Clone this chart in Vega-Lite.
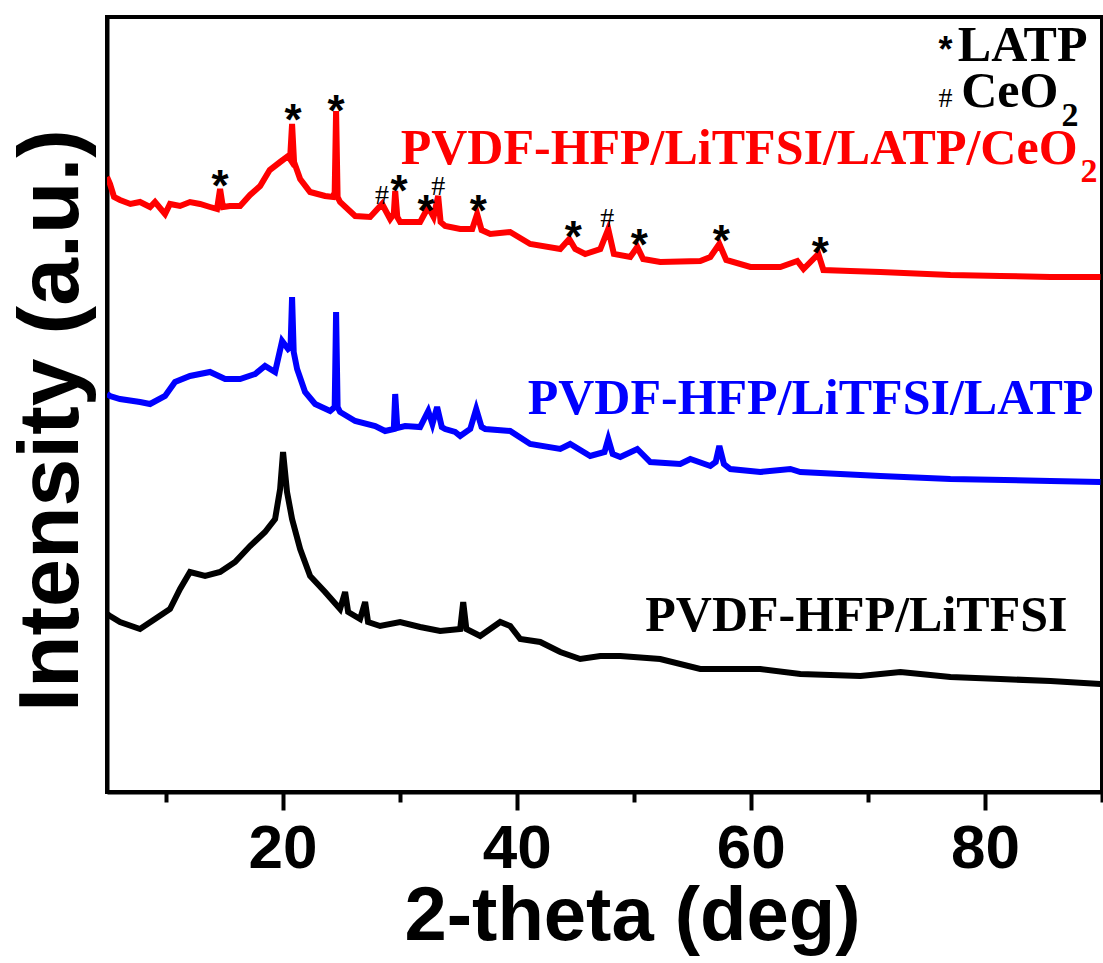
{
"$schema": "https://vega.github.io/schema/vega-lite/v6.json",
"width": 995, "height": 775,
"autosize": {"type": "none"},
"padding": {"left": 107, "top": 17, "right": 1, "bottom": 171},
"background": "white",
"config": {"view": {"stroke": "black", "strokeWidth": 4}},
"datasets": {
"xrd": [
{"s":"CeO2","x":5.0,"y":615},{"s":"CeO2","x":5.26,"y":608},{"s":"CeO2","x":5.6,"y":595},{"s":"CeO2","x":6.11,"y":592},{"s":"CeO2","x":7.0,"y":588},{"s":"CeO2","x":7.82,"y":590},{"s":"CeO2","x":8.68,"y":585},{"s":"CeO2","x":9.1,"y":590},{"s":"CeO2","x":9.96,"y":578},{"s":"CeO2","x":10.38,"y":588},{"s":"CeO2","x":11.24,"y":586},{"s":"CeO2","x":12.09,"y":590},{"s":"CeO2","x":12.95,"y":588},{"s":"CeO2","x":13.8,"y":585},{"s":"CeO2","x":14.4,"y":583},{"s":"CeO2","x":14.66,"y":603},{"s":"CeO2","x":14.9,"y":585},{"s":"CeO2","x":15.5,"y":586},{"s":"CeO2","x":16.37,"y":586},{"s":"CeO2","x":17.22,"y":597},{"s":"CeO2","x":18.08,"y":606},{"s":"CeO2","x":18.9,"y":622},{"s":"CeO2","x":19.79,"y":630},{"s":"CeO2","x":20.47,"y":636},{"s":"CeO2","x":20.64,"y":633},{"s":"CeO2","x":20.81,"y":668},{"s":"CeO2","x":20.98,"y":630},{"s":"CeO2","x":21.5,"y":613},{"s":"CeO2","x":22.35,"y":600},{"s":"CeO2","x":23.63,"y":596},{"s":"CeO2","x":24.32,"y":595},{"s":"CeO2","x":24.45,"y":600},{"s":"CeO2","x":24.57,"y":681},{"s":"CeO2","x":24.7,"y":595},{"s":"CeO2","x":24.91,"y":590},{"s":"CeO2","x":26.2,"y":576},{"s":"CeO2","x":27.48,"y":575},{"s":"CeO2","x":28.5,"y":588},{"s":"CeO2","x":29.19,"y":573},{"s":"CeO2","x":29.5,"y":578},{"s":"CeO2","x":29.62,"y":601},{"s":"CeO2","x":29.8,"y":575},{"s":"CeO2","x":30.04,"y":570},{"s":"CeO2","x":31.75,"y":570},{"s":"CeO2","x":32.44,"y":585},{"s":"CeO2","x":32.9,"y":575},{"s":"CeO2","x":33.29,"y":596},{"s":"CeO2","x":33.5,"y":570},{"s":"CeO2","x":33.89,"y":566},{"s":"CeO2","x":35.17,"y":563},{"s":"CeO2","x":36.2,"y":563},{"s":"CeO2","x":36.62,"y":578},{"s":"CeO2","x":37.0,"y":562},{"s":"CeO2","x":37.74,"y":558},{"s":"CeO2","x":39.44,"y":560},{"s":"CeO2","x":41.15,"y":548},{"s":"CeO2","x":43.72,"y":543},{"s":"CeO2","x":44.49,"y":553},{"s":"CeO2","x":45.0,"y":543},{"s":"CeO2","x":45.85,"y":538},{"s":"CeO2","x":47.14,"y":543},{"s":"CeO2","x":47.82,"y":563},{"s":"CeO2","x":48.3,"y":538},{"s":"CeO2","x":49.7,"y":535},{"s":"CeO2","x":50.3,"y":545},{"s":"CeO2","x":50.8,"y":533},{"s":"CeO2","x":52.26,"y":530},{"s":"CeO2","x":55.68,"y":531},{"s":"CeO2","x":56.54,"y":535},{"s":"CeO2","x":57.31,"y":548},{"s":"CeO2","x":57.9,"y":532},{"s":"CeO2","x":59.96,"y":525},{"s":"CeO2","x":62.52,"y":525},{"s":"CeO2","x":63.97,"y":531},{"s":"CeO2","x":64.5,"y":523},{"s":"CeO2","x":65.77,"y":538},{"s":"CeO2","x":66.2,"y":522},{"s":"CeO2","x":68.5,"y":521},{"s":"CeO2","x":71.07,"y":520},{"s":"CeO2","x":77.05,"y":517},{"s":"CeO2","x":81.32,"y":516},{"s":"CeO2","x":85.6,"y":515},{"s":"CeO2","x":89.87,"y":515},
{"s":"LATP","x":5.0,"y":398},{"s":"LATP","x":5.26,"y":396},{"s":"LATP","x":6.11,"y":393},{"s":"LATP","x":7.82,"y":390},{"s":"LATP","x":8.68,"y":388},{"s":"LATP","x":9.96,"y":396},{"s":"LATP","x":10.81,"y":410},{"s":"LATP","x":12.09,"y":416},{"s":"LATP","x":13.8,"y":420},{"s":"LATP","x":15.09,"y":413},{"s":"LATP","x":16.37,"y":413},{"s":"LATP","x":17.65,"y":418},{"s":"LATP","x":18.5,"y":426},{"s":"LATP","x":19.36,"y":420},{"s":"LATP","x":19.96,"y":451},{"s":"LATP","x":20.47,"y":443},{"s":"LATP","x":20.68,"y":445},{"s":"LATP","x":20.81,"y":495},{"s":"LATP","x":20.95,"y":440},{"s":"LATP","x":21.24,"y":423},{"s":"LATP","x":21.92,"y":400},{"s":"LATP","x":22.78,"y":388},{"s":"LATP","x":24.06,"y":381},{"s":"LATP","x":24.45,"y":385},{"s":"LATP","x":24.57,"y":480},{"s":"LATP","x":24.7,"y":385},{"s":"LATP","x":24.91,"y":380},{"s":"LATP","x":26.2,"y":371},{"s":"LATP","x":27.91,"y":366},{"s":"LATP","x":28.76,"y":361},{"s":"LATP","x":29.5,"y":363},{"s":"LATP","x":29.62,"y":398},{"s":"LATP","x":29.8,"y":364},{"s":"LATP","x":30.47,"y":366},{"s":"LATP","x":31.75,"y":365},{"s":"LATP","x":32.44,"y":381},{"s":"LATP","x":32.8,"y":368},{"s":"LATP","x":33.2,"y":385},{"s":"LATP","x":33.6,"y":365},{"s":"LATP","x":33.89,"y":363},{"s":"LATP","x":34.74,"y":360},{"s":"LATP","x":35.17,"y":356},{"s":"LATP","x":36.03,"y":363},{"s":"LATP","x":36.54,"y":383},{"s":"LATP","x":37.0,"y":365},{"s":"LATP","x":37.31,"y":363},{"s":"LATP","x":39.44,"y":361},{"s":"LATP","x":41.15,"y":348},{"s":"LATP","x":43.72,"y":343},{"s":"LATP","x":44.57,"y":348},{"s":"LATP","x":46.28,"y":336},{"s":"LATP","x":47.5,"y":340},{"s":"LATP","x":47.82,"y":353},{"s":"LATP","x":48.2,"y":338},{"s":"LATP","x":48.85,"y":335},{"s":"LATP","x":50.3,"y":343},{"s":"LATP","x":51.41,"y":330},{"s":"LATP","x":53.97,"y":328},{"s":"LATP","x":54.83,"y":333},{"s":"LATP","x":56.54,"y":326},{"s":"LATP","x":57.0,"y":330},{"s":"LATP","x":57.31,"y":346},{"s":"LATP","x":57.7,"y":328},{"s":"LATP","x":58.25,"y":323},{"s":"LATP","x":60.81,"y":320},{"s":"LATP","x":63.38,"y":323},{"s":"LATP","x":64.23,"y":320},{"s":"LATP","x":71.07,"y":316},{"s":"LATP","x":77.05,"y":313},{"s":"LATP","x":85.6,"y":311},{"s":"LATP","x":89.87,"y":310},
{"s":"LiTFSI","x":5.0,"y":178},{"s":"LiTFSI","x":5.26,"y":176},{"s":"LiTFSI","x":6.11,"y":170},{"s":"LiTFSI","x":7.82,"y":163},{"s":"LiTFSI","x":9.1,"y":173},{"s":"LiTFSI","x":10.38,"y":183},{"s":"LiTFSI","x":11.24,"y":203},{"s":"LiTFSI","x":12.09,"y":220},{"s":"LiTFSI","x":13.38,"y":216},{"s":"LiTFSI","x":14.66,"y":220},{"s":"LiTFSI","x":15.94,"y":230},{"s":"LiTFSI","x":17.22,"y":246},{"s":"LiTFSI","x":18.5,"y":260},{"s":"LiTFSI","x":19.36,"y":273},{"s":"LiTFSI","x":19.79,"y":303},{"s":"LiTFSI","x":20.04,"y":340},{"s":"LiTFSI","x":20.38,"y":300},{"s":"LiTFSI","x":20.81,"y":273},{"s":"LiTFSI","x":21.5,"y":243},{"s":"LiTFSI","x":22.35,"y":216},{"s":"LiTFSI","x":23.63,"y":200},{"s":"LiTFSI","x":24.91,"y":183},{"s":"LiTFSI","x":25.34,"y":200},{"s":"LiTFSI","x":25.6,"y":180},{"s":"LiTFSI","x":26.62,"y":173},{"s":"LiTFSI","x":27.05,"y":190},{"s":"LiTFSI","x":27.3,"y":170},{"s":"LiTFSI","x":28.33,"y":166},{"s":"LiTFSI","x":30.04,"y":170},{"s":"LiTFSI","x":31.75,"y":165},{"s":"LiTFSI","x":33.46,"y":161},{"s":"LiTFSI","x":35.17,"y":163},{"s":"LiTFSI","x":35.43,"y":190},{"s":"LiTFSI","x":35.7,"y":163},{"s":"LiTFSI","x":36.88,"y":156},{"s":"LiTFSI","x":38.59,"y":170},{"s":"LiTFSI","x":39.44,"y":166},{"s":"LiTFSI","x":40.3,"y":153},{"s":"LiTFSI","x":42.01,"y":150},{"s":"LiTFSI","x":43.72,"y":140},{"s":"LiTFSI","x":45.43,"y":133},{"s":"LiTFSI","x":47.14,"y":136},{"s":"LiTFSI","x":48.85,"y":136},{"s":"LiTFSI","x":52.26,"y":133},{"s":"LiTFSI","x":55.68,"y":123},{"s":"LiTFSI","x":60.81,"y":123},{"s":"LiTFSI","x":64.23,"y":118},{"s":"LiTFSI","x":69.36,"y":116},{"s":"LiTFSI","x":72.78,"y":120},{"s":"LiTFSI","x":77.05,"y":115},{"s":"LiTFSI","x":81.32,"y":113},{"s":"LiTFSI","x":85.6,"y":111},{"s":"LiTFSI","x":89.87,"y":108}
],
"labels": [
{"s":"CeO2","x":87.91,"y":628,"text":"PVDF-HFP/LiTFSI/LATP/CeO"},
{"s":"LATP","x":89.27,"y":378,"text":"PVDF-HFP/LiTFSI/LATP"},
{"s":"LiTFSI","x":87.05,"y":161,"text":"PVDF-HFP/LiTFSI"},
{"s":"legend","x":88.76,"y":731,"text":"LATP"},
{"s":"legend","x":86.28,"y":685,"text":"CeO"}
],
"subs": [
{"s":"CeO2","x":88.16,"y":610,"text":"2"},
{"s":"legend","x":86.54,"y":666,"text":"2"}
],
"stars": [
{"x":14.66,"y":615},{"x":20.9,"y":681},{"x":24.57,"y":690},{"x":29.96,"y":610},{"x":32.26,"y":590},{"x":36.71,"y":590},{"x":44.83,"y":564},{"x":50.47,"y":556},{"x":57.48,"y":560},{"x":65.94,"y":548}
],
"legendstar": [{"x":76.62,"y":750}],
"hashes": [
{"x":28.5,"y":598},{"x":33.29,"y":607},{"x":47.74,"y":575},{"x":76.62,"y":695}
]
},
"layer": [
{"data": {"name": "xrd"}, "mark": {"type": "line", "strokeWidth": 6, "strokeJoin": "miter", "clip": true},
 "encoding": {
  "x": {"field": "x", "type": "quantitative", "scale": {"domain": [5, 90], "nice": false, "zero": false},
   "axis": {"values": [10,20,30,40,50,60,70,80,90], "labelExpr": "datum.value % 20 === 0 ? datum.label : ''", "title": "2-theta (deg)", "grid": false, "domainWidth": 4, "domainColor": "black",
     "tickSize": {"condition": {"test": "datum.value % 20 === 0", "value": 18}, "value": 10},
     "tickWidth": 4, "tickColor": "black", "labelFont": "Liberation Sans", "labelFontWeight": "bold", "labelFontSize": 62, "labelColor": "black", "labelPadding": 8, "titleFont": "Liberation Sans", "titleFontWeight": "bold", "titleFontSize": 76, "titleColor": "black", "titlePadding": 0, "titleX": 525}},
  "y": {"field": "y", "type": "quantitative", "scale": {"domain": [0, 775], "nice": false},
   "axis": {"title": "Intensity (a.u.)", "labels": false, "ticks": false, "grid": false, "domainWidth": 4, "domainColor": "black", "titleFont": "Liberation Sans", "titleFontWeight": "bold", "titleFontSize": 86, "titleColor": "black", "titlePadding": 12, "titleY": 403}},
  "color": {"field": "s", "type": "nominal", "scale": {"domain": ["CeO2","LATP","LiTFSI","legend"], "range": ["#ff0000","#0000ff","#000000","#000000"]}, "legend": null}
 }},
{"data": {"name": "labels"}, "mark": {"type": "text", "align": "right", "baseline": "alphabetic", "font": "Liberation Serif", "fontWeight": "bold", "fontSize": 50},
 "encoding": {"x": {"field": "x", "type": "quantitative"}, "y": {"field": "y", "type": "quantitative"}, "text": {"field": "text"}, "color": {"field": "s", "type": "nominal", "legend": null}}},
{"data": {"name": "subs"}, "mark": {"type": "text", "align": "left", "baseline": "alphabetic", "font": "Liberation Serif", "fontWeight": "bold", "fontSize": 34},
 "encoding": {"x": {"field": "x", "type": "quantitative"}, "y": {"field": "y", "type": "quantitative"}, "text": {"field": "text"}, "color": {"field": "s", "type": "nominal", "legend": null}}},
{"data": {"name": "stars"}, "mark": {"type": "text", "text": "*", "align": "center", "baseline": "alphabetic", "font": "Liberation Sans", "fontWeight": "bold", "fontSize": 44, "dy": 24, "color": "black"},
 "encoding": {"x": {"field": "x", "type": "quantitative"}, "y": {"field": "y", "type": "quantitative"}}},
{"data": {"name": "legendstar"}, "mark": {"type": "text", "text": "*", "align": "center", "baseline": "alphabetic", "font": "Liberation Sans", "fontWeight": "bold", "fontSize": 36, "dy": 20, "color": "black"},
 "encoding": {"x": {"field": "x", "type": "quantitative"}, "y": {"field": "y", "type": "quantitative"}}},
{"data": {"name": "hashes"}, "mark": {"type": "text", "text": "#", "align": "center", "baseline": "alphabetic", "font": "Liberation Serif", "fontSize": 28, "dy": 10, "color": "black"},
 "encoding": {"x": {"field": "x", "type": "quantitative"}, "y": {"field": "y", "type": "quantitative"}}}
]
}
